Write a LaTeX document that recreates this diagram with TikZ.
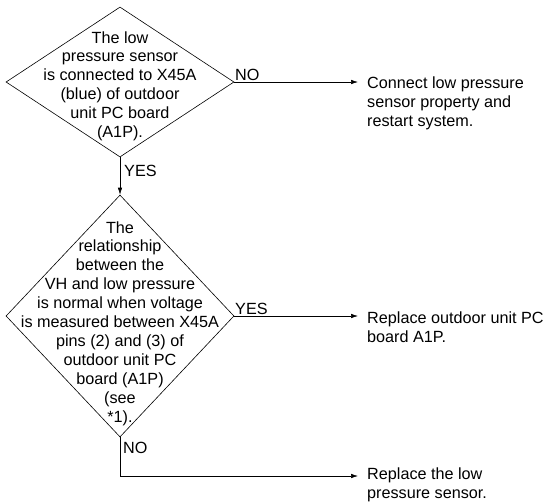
\documentclass[tikz,border=0pt]{standalone}
\usepackage{fontspec}
\setmainfont{Liberation Sans}
\usetikzlibrary{shapes.geometric,arrows.meta}
\begin{document}
\begin{tikzpicture}[x=1pt,y=-1pt,
  every node/.style={font=\fontsize{16.2}{18.9}\selectfont, inner sep=0pt},
  dia/.style={draw, diamond, inner sep=0pt, line width=0.6pt},
  txt/.style={align=center, anchor=base},
  res/.style={align=left, anchor=base west},
  lab/.style={anchor=base west},
  conn/.style={line width=0.6pt},
  arr/.style={conn, -{Latex[length=7pt,width=4.5pt]}}
]
\useasboundingbox (0,0) rectangle (543,501);
\node[dia, minimum width=228pt, minimum height=150pt] (d1) at (120,82) {};
\node[dia, minimum width=228pt, minimum height=242pt] (d2) at (120,316) {};
\node[txt] (t1) at (120,137.5) {The low\\pressure sensor\\is connected to X45A\\(blue) of outdoor\\unit PC board\\(A1P).};
\node[txt] (t2) at (120,422) {The\\relationship\\between the\\VH and low pressure\\is normal when voltage\\is measured between X45A\\pins (2) and (3) of\\outdoor unit PC\\board (A1P)\\(see\\*1).};
\node[res] (r1) at (367,126.5) {Connect low pressure\\sensor property and\\restart system.};
\node[res] (r2) at (367,342) {Replace outdoor unit PC\\board A1P.};
\node[res] (r3) at (367,498.5) {Replace the low\\pressure sensor.};
\coordinate (a1) at (358,83);
\coordinate (a2) at (358,317);
\coordinate (a3) at (358,476);
\draw[arr] (d1.east) -- (d1.east -| a1);
\draw[arr] (d1.south) -- (d2.north);
\draw[arr] (d2.east) -- (d2.east -| a2);
\draw[arr] (d2.south) |- (a3);
\node[lab] (n1) at (235,80) {NO};
\node[lab] (y1) at (124,176) {YES};
\node[lab] (y2) at (235,314) {YES};
\node[lab] (n2) at (123,453) {NO};
\end{tikzpicture}
\end{document}
